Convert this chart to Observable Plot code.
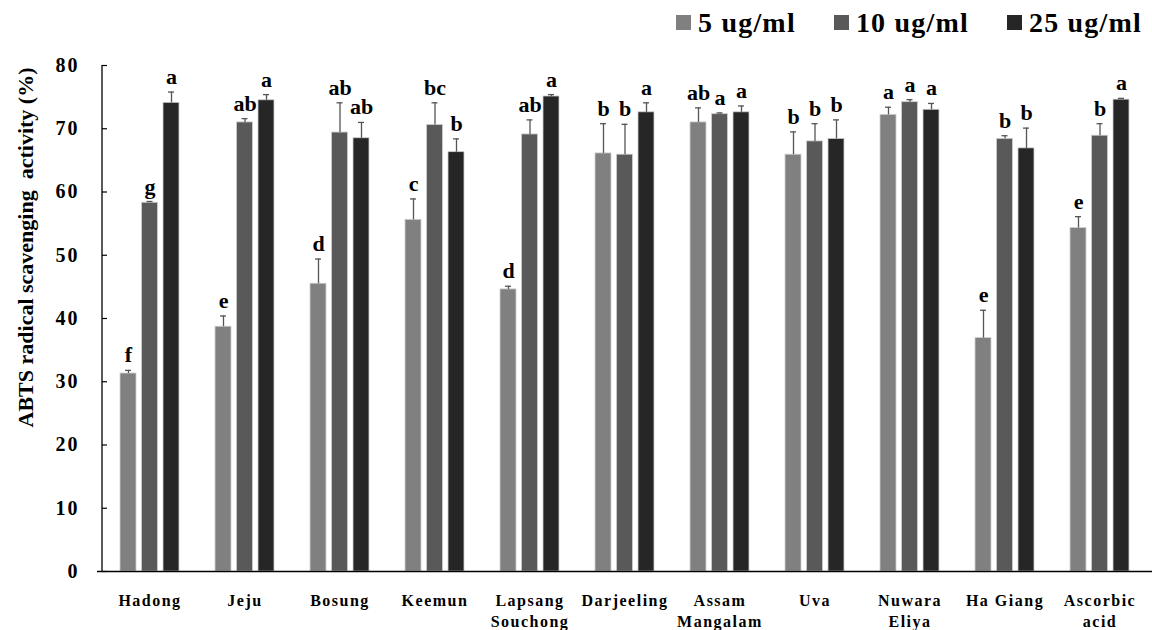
<!DOCTYPE html>
<html><head><meta charset="utf-8">
<script src="https://cdn.jsdelivr.net/npm/d3@7"></script>
<script src="https://cdn.jsdelivr.net/npm/@observablehq/plot@0.6"></script>
<style>
body{margin:0;background:#fff;font-family:"Liberation Serif","Times New Roman","DejaVu Serif",serif;}
#legend{height:45px;display:flex;justify-content:flex-end;align-items:center;padding-right:10px;font-weight:bold;font-size:28px;letter-spacing:1.2px;color:#000;box-sizing:border-box;}
.item{display:flex;align-items:center;margin-left:38px}
.sw{width:15px;height:15px;margin-right:7px}
svg g[aria-label="x-axis tick label"] text{letter-spacing:1.5px}
svg g[aria-label="y-axis tick label"] text{letter-spacing:2px}
</style></head><body>
<div id="legend"></div>
<div id="chart"></div>
<script>
const categories = ["Hadong","Jeju","Bosung","Keemun","Lapsang Souchong","Darjeeling","Assam Mangalam","Uva","Nuwara Eliya","Ha Giang","Ascorbic acid"];
const tickLabels = ["Hadong","Jeju","Bosung","Keemun","Lapsang\nSouchong","Darjeeling","Assam\nMangalam","Uva","Nuwara\nEliya","Ha Giang","Ascorbic\nacid"];
const series = ["5 ug/ml","10 ug/ml","25 ug/ml"];
const colors = ["#808080","#595959","#262626"];
const v5  = [31.3, 38.7, 45.5, 55.6, 44.6, 66.1, 71.0, 65.9, 72.2, 36.9, 54.3];
const e5  = [0.5, 1.7, 3.9, 3.3, 0.5, 4.7, 2.3, 3.6, 1.2, 4.4, 1.8];
const v10 = [58.3, 71.0, 69.4, 70.6, 69.1, 65.9, 72.3, 68.0, 74.2, 68.4, 68.9];
const e10 = [0.2, 0.6, 4.7, 3.5, 2.3, 4.8, 0.2, 2.8, 0.4, 0.5, 1.9];
const v25 = [74.1, 74.5, 68.5, 66.3, 75.1, 72.6, 72.6, 68.4, 73.0, 66.9, 74.6];
const e25 = [1.7, 0.9, 2.5, 2.1, 0.3, 1.5, 1.0, 3.0, 1.0, 3.2, 0.2];
const L5  = ["f","e","d","c","d","b","ab","b","a","e","e"];
const L10 = ["g","ab","ab","bc","ab","b","a","b","a","b","b"];
const L25 = ["a","a","ab","b","a","a","a","b","a","b","a"];
const yTicks = [0,10,20,30,40,50,60,70,80];
const yTitle = "ABTS radical scavenging\u00a0 activity (%)";

const vals = [v5, v10, v25], errs = [e5, e10, e25], labs = [L5, L10, L25];
const offsets = [-21.5, 0, 21.5];
const half = 48, bw = 8.5, cap = 3.5;
const font = "'Liberation Serif', 'Times New Roman', 'DejaVu Serif', serif";

// legend
const leg = document.getElementById("legend");
series.forEach((s, k) => {
  const it = document.createElement("div"); it.className = "item";
  const sw = document.createElement("div"); sw.className = "sw"; sw.style.background = colors[k];
  const tx = document.createElement("span"); tx.textContent = s;
  it.appendChild(sw); it.appendChild(tx); leg.appendChild(it);
});

const marks = [];
series.forEach((s, k) => {
  const rows = categories.map((c, i) => ({cat: c, v: vals[k][i], e: errs[k][i], lab: labs[k][i]}));
  const o = offsets[k];
  marks.push(Plot.barY(rows, {x: "cat", y: "v", fill: colors[k], stroke: "#cfcfcf", strokeWidth: 0.8,
    insetLeft: half + o - bw, insetRight: half - o - bw}));
  marks.push(Plot.ruleX(rows, {x: "cat", y1: "v", y2: d => d.v + d.e, dx: o, stroke: "#555", strokeWidth: 1.3}));
  marks.push(Plot.tickY(rows, {x: "cat", y: d => d.v + d.e, stroke: "#555", strokeWidth: 1.3,
    insetLeft: half + o - cap, insetRight: half - o - cap}));
  marks.push(Plot.text(rows, {x: "cat", y: d => d.v + d.e, text: "lab", dx: o, dy: -15,
    fontSize: 22, fontWeight: "bold", fontFamily: font, fill: "#000"}));
});

const chart = Plot.plot({
  width: 1152, height: 585,
  marginLeft: 97, marginRight: 0, marginTop: 20, marginBottom: 59,
  style: {fontFamily: font, background: "#fff", color: "#000"},
  x: {domain: categories, padding: 0, axis: null},
  y: {domain: [0, 80], axis: null},
  marks: [
    ...marks,
    Plot.ruleY([0], {stroke: "#000", strokeWidth: 1.3}),
    Plot.ruleX([categories[0]], {x: d => d, dx: -half, stroke: "#000", strokeWidth: 1.3}),
    Plot.tickY(yTicks, {x: () => categories[0], y: d => d, insetLeft: 0, insetRight: 2 * half - 6, stroke: "#000", strokeWidth: 1.2}),
    Plot.axisY({ticks: yTicks, tickSize: 0, tickPadding: 18, fontSize: 20, fontWeight: "bold", fontFamily: font, label: null}),
    Plot.axisX({tickSize: 0, tickPadding: 20, fontSize: 16, fontWeight: "bold", fontFamily: font, lineHeight: 1.3,
      tickFormat: d => tickLabels[categories.indexOf(d)], label: null}),
    Plot.text([yTitle], {frameAnchor: "top-left", text: d => d, rotate: -90, textAnchor: "end",
      dx: -80, dy: 2, fontSize: 22, fontWeight: "bold", fontFamily: font, fill: "#000"})
  ]
});
document.getElementById("chart").appendChild(chart);
</script>
</body></html>
